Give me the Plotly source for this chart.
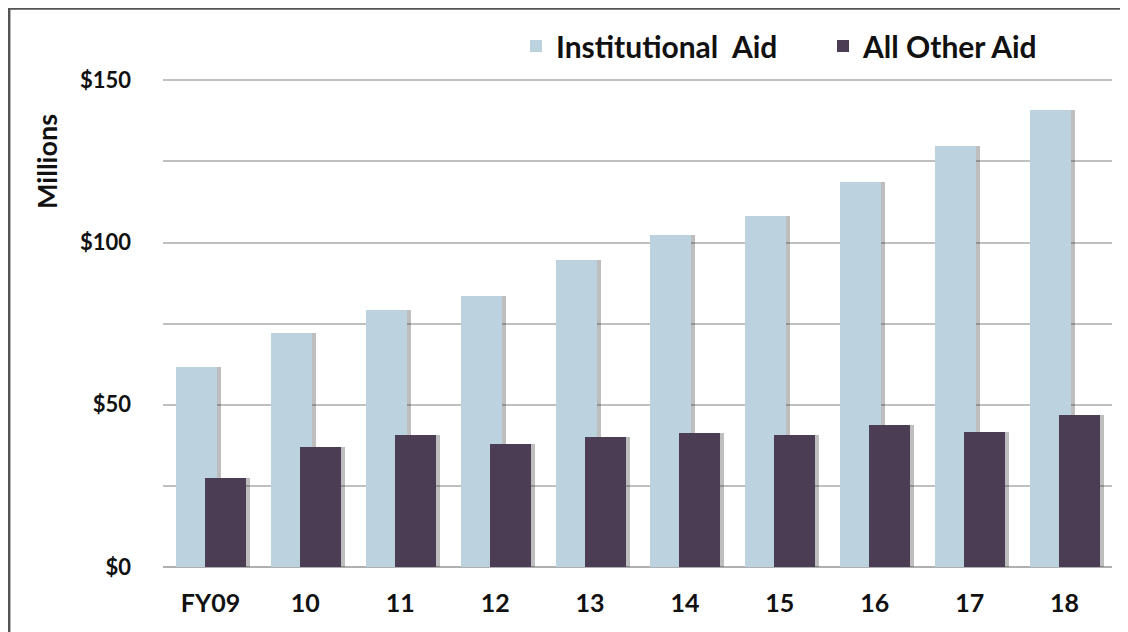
import plotly.graph_objects as go

categories = ["FY09", "10", "11", "12", "13", "14", "15", "16", "17", "18"]
institutional_aid = [61.6, 72.0, 79.2, 83.5, 94.6, 102.2, 108.2, 118.6, 129.7, 140.7]
all_other_aid = [27.5, 37.0, 40.7, 37.9, 40.0, 41.4, 40.8, 43.7, 41.6, 46.8]
y_tick_vals = [0, 25, 50, 75, 100, 125, 150]
y_tick_text = ["$0", "", "$50", "", "$100", "", "$150"]

LIGHT = "#bcd2de"
DARK = "#4b3e54"
SHADOW = "rgba(40,40,40,0.30)"
FONT = "Lato"
INK = "#111111"

# page body adds an 8px offset; compensate
OFF = 8
W, H = 1128 - OFF, 632 - OFF
L, R, T, B = 163 - OFF, 16, 80 - OFF - 3, 65
Y_MAX = 151
pw = W - L - R
ph = H - T - B
cat_px = pw / len(categories)

def u(px):
    return px / cat_px

def px_x(page_x):
    return (page_x - OFF - L) / pw

def px_y(page_y):
    return (H - B - (page_y - OFF)) / ph

bar_w = u(41)
light_off = u(-34.5)
dark_off = u(-5.5)
shadow_shift = u(4)

fig = go.Figure()
fig.add_trace(go.Bar(x=categories, y=institutional_aid, width=bar_w, offset=light_off + shadow_shift,
                     marker=dict(color=SHADOW, line=dict(width=0)),
                     showlegend=False, hoverinfo="skip"))
fig.add_trace(go.Bar(x=categories, y=institutional_aid, width=bar_w, offset=light_off,
                     name="Institutional  Aid", marker=dict(color=LIGHT, line=dict(width=0))))
fig.add_trace(go.Bar(x=categories, y=all_other_aid, width=bar_w, offset=dark_off + shadow_shift,
                     marker=dict(color=SHADOW, line=dict(width=0)),
                     showlegend=False, hoverinfo="skip"))
fig.add_trace(go.Bar(x=categories, y=all_other_aid, width=bar_w, offset=dark_off,
                     name="All Other Aid", marker=dict(color=DARK, line=dict(width=0))))

fig.update_layout(
    width=W, height=H,
    margin=dict(l=L, r=R, t=T, b=B, autoexpand=False),
    barmode="overlay",
    plot_bgcolor="white", paper_bgcolor="white",
    font=dict(family=FONT, size=18, color=INK, weight="bold"),
    legend=dict(orientation="h", x=px_x(516), y=px_y(46), xanchor="left", yanchor="middle",
                font=dict(family=FONT, size=30, color=INK, weight="bold"),
                itemwidth=30, traceorder="normal", entrywidth=262, bgcolor="rgba(0,0,0,0)"),
    xaxis=dict(showgrid=False, showline=False, ticks="", tickfont=dict(size=25, weight="bold"),
               ticklabelstandoff=19, range=[-0.5, len(categories) - 0.5]),
    yaxis=dict(range=[0, Y_MAX], tickvals=y_tick_vals, ticktext=y_tick_text,
               showgrid=True, gridcolor="#c0c0c0", gridwidth=2,
               zeroline=True, zerolinecolor="#b0b0b0", zerolinewidth=2,
               ticks="", ticklabelstandoff=31, tickfont=dict(size=22, weight="bold"), showline=False),
    bargap=0,
    shapes=[
        dict(type="rect", xref="paper", yref="paper",
             x0=(1.2 - L) / pw, x1=(W + 20 - L) / pw,
             y0=-(H + 20 - T - ph) / ph, y1=1 + (T - 0.5) / ph,
             line=dict(color="#555555", width=2.5), fillcolor="rgba(0,0,0,0)", layer="above"),
    ],
    annotations=[
        dict(text="Millions", xref="paper", yref="paper", x=px_x(46), y=px_y(162),
             textangle=-90, showarrow=False, font=dict(family=FONT, size=27, weight="bold", color=INK),
             xanchor="center", yanchor="middle"),
    ],
)

fig.write_html("out.html")
